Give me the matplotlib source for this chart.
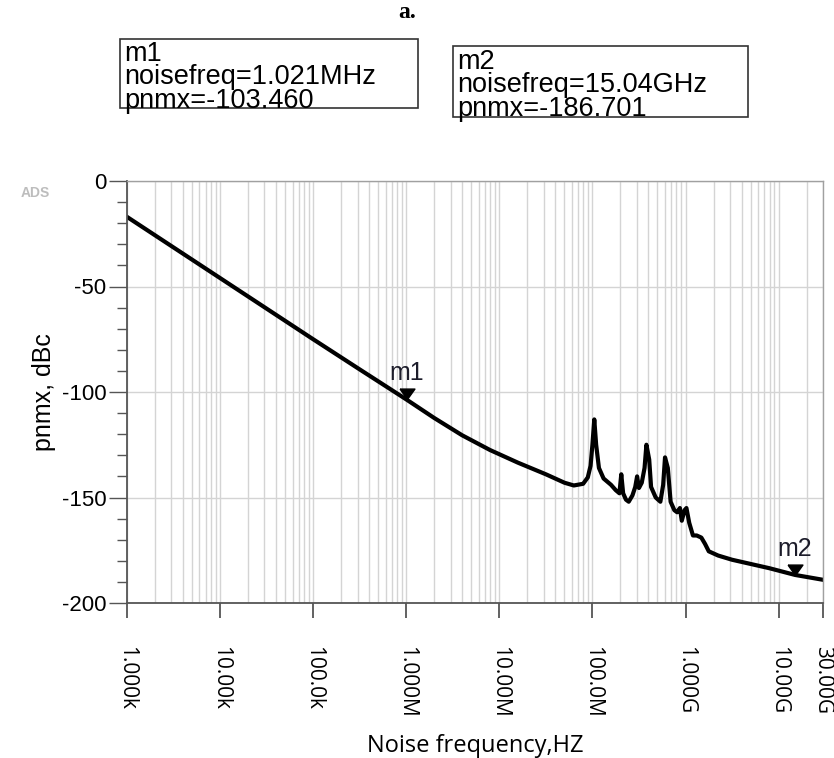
import matplotlib
matplotlib.use("Agg")
import matplotlib.pyplot as plt
import numpy as np
from matplotlib.ticker import FixedLocator, NullFormatter, MultipleLocator

plt.rcParams["axes.unicode_minus"] = False

# phase noise curve (log10 of Hz, dBc)
freq_log10 = [3.0, 3.5, 4.0, 4.5, 5.0, 5.5, 6.0, 6.3, 6.6, 6.9, 7.2, 7.5, 7.7,
              7.8, 7.9, 7.95, 7.98, 8.0, 8.02, 8.04, 8.07, 8.12, 8.2, 8.25,
              8.29, 8.31, 8.33, 8.36, 8.39, 8.43, 8.46, 8.48, 8.5, 8.53, 8.56,
              8.58, 8.61, 8.63, 8.68, 8.73, 8.76, 8.78, 8.81, 8.84, 8.88, 8.91,
              8.94, 8.96, 8.99, 9.01, 9.04, 9.08, 9.12, 9.17, 9.21, 9.25, 9.35,
              9.5, 9.7, 9.9, 10.177, 10.477]
pnmx = [-17.0, -31.5, -46.0, -60.5, -75.0, -89.3, -103.5, -112.3, -120.5,
        -127.5, -133.5, -139.0, -143.0, -144.3, -143.5, -140.5, -135.0, -125.0,
        -113.0, -125.0, -136.0, -141.0, -144.0, -146.5, -148.0, -139.0, -148.0,
        -151.0, -152.0, -149.0, -145.0, -140.0, -145.5, -143.0, -136.0, -125.0,
        -132.0, -145.0, -150.0, -152.0, -144.0, -131.0, -136.0, -152.0, -156.0,
        -157.0, -155.0, -161.0, -156.0, -155.0, -162.0, -168.0, -168.0, -169.0,
        -172.0, -175.5, -177.5, -179.5, -181.5, -183.5, -186.7, -189.0]

markers = ["m1", "m2"]
marker_freq = [1.021e6, 15.04e9]
marker_val = [-103.460, -186.701]
marker_freq_txt = ["1.021MHz", "15.04GHz"]

xticks = [1e3, 1e4, 1e5, 1e6, 1e7, 1e8, 1e9, 1e10, 3e10]
xtick_labels = ["1.000k", "10.00k", "100.0k", "1.000M", "10.00M", "100.0M",
                "1.000G", "10.00G", "30.00G"]

freq = 10 ** np.array(freq_log10)

fig = plt.figure(figsize=(8.34, 7.58), dpi=100)
ax = fig.add_axes([127 / 834, 1 - 603 / 758, 696 / 834, 422 / 758])

ax.plot(freq, pnmx, color="black", lw=3, solid_joinstyle="round")

ax.set_xscale("log")
ax.set_xlim(1e3, 3e10)
ax.set_ylim(-200, 0)

# vertical grid on every 1..9 x decade, horizontal only on majors
minor_x = [m * 10.0 ** d for d in range(3, 11) for m in range(2, 10) if m * 10.0 ** d < 3e10]
ax.xaxis.set_major_locator(FixedLocator(xticks))
ax.xaxis.set_minor_locator(FixedLocator(minor_x))
ax.xaxis.set_minor_formatter(NullFormatter())
ax.set_xticklabels(xtick_labels, rotation=-90, family="Open Sans", fontsize=15, va="top")
ax.yaxis.set_major_locator(MultipleLocator(50))
ax.yaxis.set_minor_locator(MultipleLocator(10))
for lab in ax.get_yticklabels():
    lab.set_family("Liberation Sans")
    lab.set_fontsize(16)

ax.grid(True, which="major", color="#d4d4d4", lw=1)
ax.grid(True, which="minor", axis="x", color="#d4d4d4", lw=1)
ax.tick_params(axis="x", which="major", length=11, width=1.3, color="#555555", pad=20)
ax.tick_params(axis="x", which="minor", length=0)
ax.tick_params(axis="y", which="major", length=13, width=1, color="#555555", pad=2)
ax.tick_params(axis="y", which="minor", length=7, width=1, color="#555555")
for side in ["left", "bottom"]:
    ax.spines[side].set_color("#555555")
    ax.spines[side].set_linewidth(1.3)
for side in ["top", "right"]:
    ax.spines[side].set_color("#a0a0a0")
    ax.spines[side].set_linewidth(1)

ax.set_ylabel("pnmx, dBc", family="Liberation Sans", fontsize=18, labelpad=4)
ax.set_xlabel("Noise frequency,HZ", family="Open Sans", fontsize=17)
ax.xaxis.set_label_coords(0.5, -0.31)

# marker triangles, tip on the curve
tri = [(-1, 1.4), (1, 1.4), (0, 0), (-1, 1.4)]
for name, f, v in zip(markers, marker_freq, marker_val):
    ax.plot([f], [v], marker=tri, ms=15, color="black", mec="black", ls="none")
    ax.annotate(name, (f, v), xytext=(0, 10), textcoords="offset points",
                ha="center", va="bottom", fontsize=18, family="Liberation Sans",
                color="#1c1c2a")

fig.text(35 / 834, 1 - 193 / 758, "ADS", fontsize=10, weight="bold", color="#bdbdbd",
         ha="center", va="center", family="Liberation Sans")

fig.text(407 / 834, 1 - 13 / 758, "a.", fontsize=17, weight="bold",
         family="Liberation Serif", ha="center", va="center")

# marker readout boxes
boxes = [(120, 39, 418, 108), (453, 46, 748, 117)]
for (x0, y0, x1, y1), name, ft, v in zip(boxes, markers, marker_freq_txt, marker_val):
    fig.patches.append(plt.Rectangle((x0 / 834, 1 - y1 / 758), (x1 - x0) / 834,
                                     (y1 - y0) / 758, transform=fig.transFigure,
                                     fill=False, ec="#333333", lw=1.2))
    block = "\n".join([name, "noisefreq=" + ft, "pnmx=%.3f" % v])
    fig.text((x0 + 4) / 834, 1 - ((y0 + y1) / 2 + 4) / 758, block, fontsize=19.5,
             linespacing=0.86, family="Liberation Sans", ha="left", va="center")

fig.savefig("out.png", dpi=100)
